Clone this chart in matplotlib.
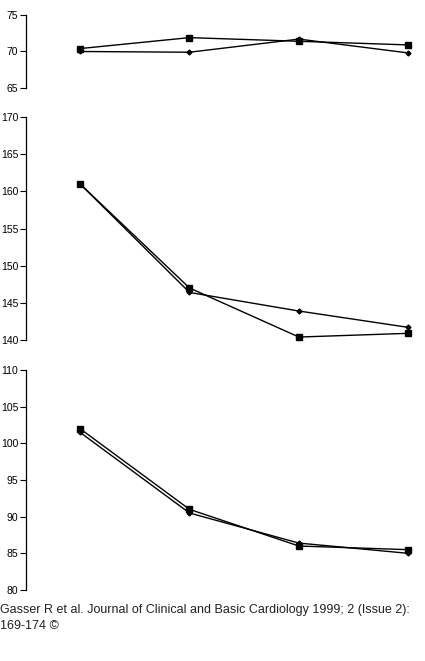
import matplotlib
matplotlib.use("Agg")
import matplotlib.pyplot as plt

plt.rcParams['font.family'] = ['Liberation Sans', 'DejaVu Sans']

visits = [0, 1, 2, 3]

# top panel
top_sq = [70.4, 71.9, 71.4, 70.9]
top_dm = [70.0, 69.9, 71.7, 69.8]
top_ticks = [65, 70, 75]

# middle panel
mid_sq = [161.0, 147.0, 140.4, 140.9]
mid_dm = [161.0, 146.4, 143.9, 141.7]
mid_ticks = [140, 145, 150, 155, 160, 165, 170]

# bottom panel
bot_sq = [102.0, 91.0, 86.0, 85.5]
bot_dm = [101.5, 90.5, 86.4, 85.0]
bot_ticks = [80, 85, 90, 95, 100, 105, 110]

footer = "Gasser R et al. Journal of Clinical and Basic Cardiology 1999; 2 (Issue 2):\n169-174 \u00a9"

fig = plt.figure(figsize=(4.25, 6.61), dpi=100)

left = 26 / 425
panels = [
    ([left, 0.8669, 0.94, 0.1104], top_sq, top_dm, top_ticks),
    ([left, 0.4856, 0.94, 0.3374], mid_sq, mid_dm, mid_ticks),
    ([left, 0.1074, 0.94, 0.3328], bot_sq, bot_dm, bot_ticks),
]

for rect, sq, dm, ticks in panels:
    ax = fig.add_axes(rect)
    ax.plot(visits, sq, color='black', lw=1, marker='s', ms=4, clip_on=False)
    ax.plot(visits, dm, color='black', lw=1, marker='D', ms=2.5, clip_on=False)
    ax.set_xlim(-0.494, 3.157)
    ax.set_ylim(ticks[0], ticks[-1])
    ax.set_yticks(ticks)
    ax.set_yticklabels([str(t) for t in ticks])
    for s in ['top', 'right', 'bottom']:
        ax.spines[s].set_visible(False)
    ax.spines['left'].set_linewidth(0.9)
    ax.set_xticks([])
    ax.tick_params(axis='y', length=4, width=0.8, labelsize=7.5, pad=1.5, colors='black')

fig.text(0.0, 1 - 618 / 661, footer, fontsize=9, ha='left', va='center',
         linespacing=1.35, color='#222222')

fig.savefig("out.png", dpi=100)
